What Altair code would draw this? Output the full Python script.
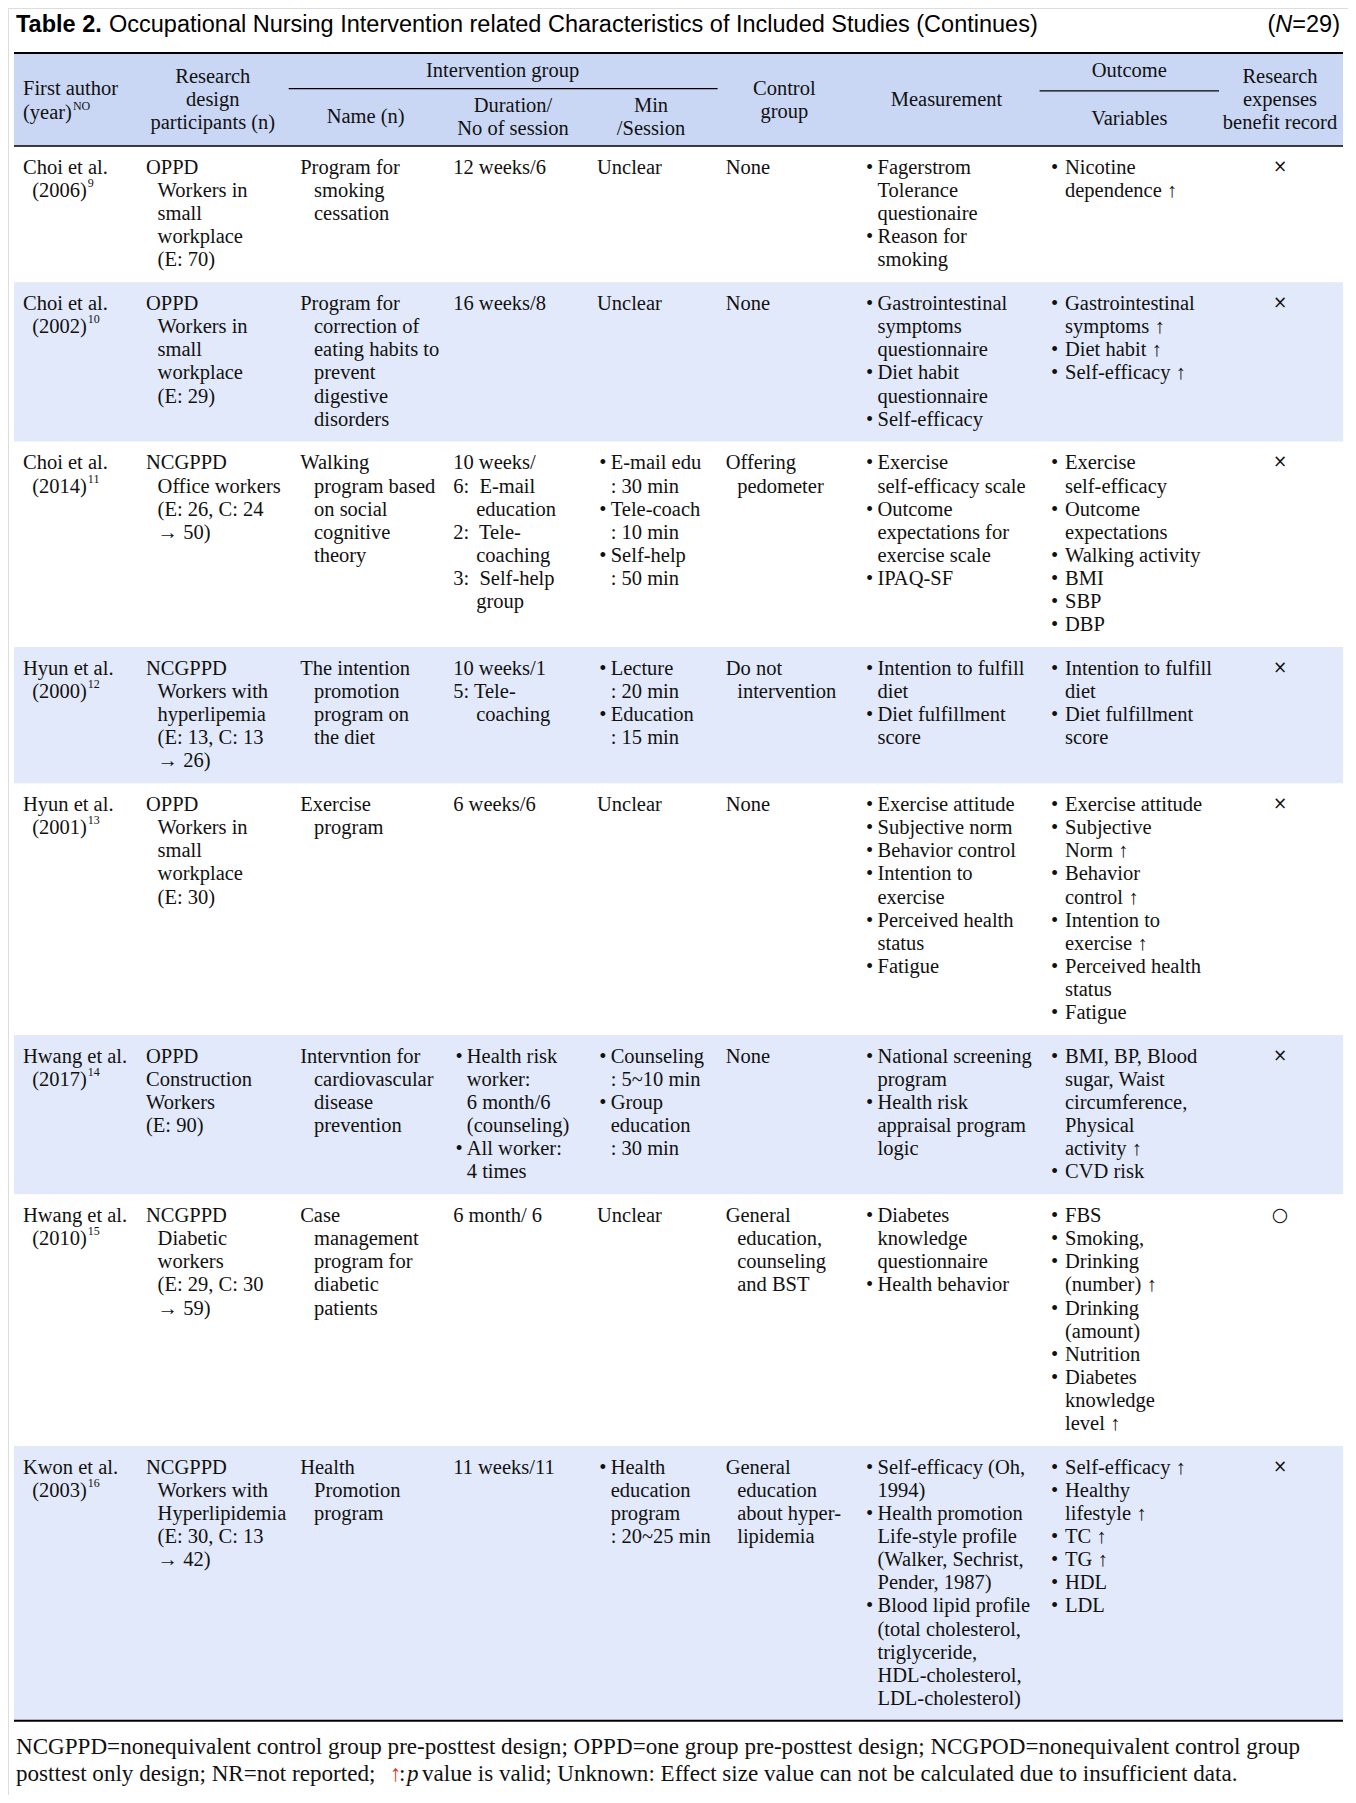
import altair as alt
import pandas as pd

# ---------------- DATA ----------------
title_bold = "Table 2."
title_text = "Occupational Nursing Intervention related Characteristics of Included Studies (Continues)"
n_note = ["(", "N", "=29)"]

head_author = ["First author", "(year)"]
head_author_sup = "NO"
head_design = ["Research", "design", "participants (n)"]
head_group = "Intervention group"
head_name = ["Name (n)"]
head_duration = ["Duration/", "No of session"]
head_min = ["Min", "/Session"]
head_control = ["Control", "group"]
head_measure = ["Measurement"]
head_outcome = "Outcome"
head_variables = ["Variables"]
head_benefit = ["Research", "expenses", "benefit record"]

authors = ["Choi et al.", "Choi et al.", "Choi et al.", "Hyun et al.", "Hyun et al.",
           "Hwang et al.", "Hwang et al.", "Kwon et al."]
years = ["(2006)", "(2002)", "(2014)", "(2000)", "(2001)", "(2017)", "(2010)", "(2003)"]
refs = ["9", "10", "11", "12", "13", "14", "15", "16"]

design = [
    ["OPPD", "Workers in", "small", "workplace", "(E: 70)"],
    ["OPPD", "Workers in", "small", "workplace", "(E: 29)"],
    ["NCGPPD", "Office workers", "(E: 26, C: 24", "→ 50)"],
    ["NCGPPD", "Workers with", "hyperlipemia", "(E: 13, C: 13", "→ 26)"],
    ["OPPD", "Workers in", "small", "workplace", "(E: 30)"],
    ["OPPD", "^Construction", "^Workers", "^(E: 90)"],
    ["NCGPPD", "Diabetic", "workers", "(E: 29, C: 30", "→ 59)"],
    ["NCGPPD", "Workers with", "Hyperlipidemia", "(E: 30, C: 13", "→ 42)"],
]
names = [
    ["Program for", "smoking", "cessation"],
    ["Program for", "correction of", "eating habits to", "prevent", "digestive", "disorders"],
    ["Walking", "program based", "on social", "cognitive", "theory"],
    ["The intention", "promotion", "program on", "the diet"],
    ["Exercise", "program"],
    ["Intervntion for", "cardiovascular", "disease", "prevention"],
    ["Case", "management", "program for", "diabetic", "patients"],
    ["Health", "Promotion", "program"],
]
duration = [
    ["12 weeks/6"],
    ["16 weeks/8"],
    ["10 weeks/", "^6:\u00a0 E-mail", "education", "^2:\u00a0 Tele-", "coaching", "^3:\u00a0 Self-help", "group"],
    ["10 weeks/1", "^5: Tele-", "coaching"],
    ["6 weeks/6"],
    ["• Health risk", "worker:", "6 month/6", "(counseling)", "• All worker:", "4 times"],
    ["6 month/ 6"],
    ["11 weeks/11"],
]
minutes = [
    ["Unclear"],
    ["Unclear"],
    ["• E-mail edu", ": 30 min", "• Tele-coach", ": 10 min", "• Self-help", ": 50 min"],
    ["• Lecture", ": 20 min", "• Education", ": 15 min"],
    ["Unclear"],
    ["• Counseling", ": 5~10 min", "•Group", "education", ": 30 min"],
    ["Unclear"],
    ["•Health", "education", "program", ": 20~25 min"],
]
control = [
    ["None"], ["None"], ["Offering", "pedometer"], ["Do not", "intervention"],
    ["None"], ["None"], ["General", "education,", "counseling", "and BST"],
    ["General", "education", "about hyper-", "lipidemia"],
]
measurement = [
    ["• Fagerstrom", "Tolerance", "questionaire", "• Reason for", "smoking"],
    ["• Gastrointestinal", "symptoms", "questionnaire", "• Diet habit", "questionnaire", "• Self-efficacy"],
    ["• Exercise", "self-efficacy scale", "• Outcome", "expectations for", "exercise scale", "• IPAQ-SF"],
    ["• Intention to fulfill", "diet", "• Diet fulfillment", "score"],
    ["• Exercise attitude", "• Subjective norm", "• Behavior control", "• Intention to", "exercise",
     "• Perceived health", "status", "• Fatigue"],
    ["• National screening", "program", "• Health risk", "appraisal program", "logic"],
    ["• Diabetes", "knowledge", "questionnaire", "• Health behavior"],
    ["• Self-efficacy (Oh,", "1994)", "• Health promotion", "Life-style profile", "(Walker, Sechrist,",
     "Pender, 1987)", "• Blood lipid profile", "(total cholesterol,", "triglyceride,",
     "HDL-cholesterol,", "LDL-cholesterol)"],
]
variables = [
    ["• Nicotine", "dependence ↑"],
    ["• Gastrointestinal", "symptoms ↑", "• Diet habit ↑", "• Self-efficacy ↑"],
    ["• Exercise", "self-efficacy", "• Outcome", "expectations", "• Walking activity", "• BMI", "• SBP", "• DBP"],
    ["• Intention to fulfill", "diet", "• Diet fulfillment", "score"],
    ["• Exercise attitude", "• Subjective", "Norm ↑", "• Behavior", "control ↑", "• Intention to",
     "exercise ↑", "• Perceived health", "status", "• Fatigue"],
    ["• BMI, BP, Blood", "sugar, Waist", "circumference,", "Physical", "activity ↑", "• CVD risk"],
    ["• FBS", "• Smoking,", "• Drinking", "(number) ↑", "• Drinking", "(amount)", "• Nutrition",
     "• Diabetes", "knowledge", "level ↑"],
    ["• Self-efficacy ↑", "• Healthy", "lifestyle ↑", "• TC ↑", "• TG ↑", "• HDL", "• LDL"],
]
benefit = ["×", "×", "×", "×", "×", "×", "○", "×"]

foot_line1 = ("NCGPPD=nonequivalent control group pre-posttest design; OPPD=one group pre-posttest "
              "design; NCGPOD=nonequivalent control group")
foot_line2 = ["posttest only design; NR=not reported;", "↑", ":", "p",
              "value is valid; Unknown: Effect size value can not be calculated due to insufficient data."]

# ---------------- LAYOUT / STYLE ----------------
W, H = 1340, 1787
OFF = 8
FS = 20.5
FS_FOOT = 23.1
TS = 23.5
SERIF = "Liberation Serif"
SANS = "Liberation Sans"
LH = 23.1
PAD = 20.7
FIRST = 21.9
HEAD_TOP = 52.9
HEAD_BOT = 146.0
TL, TR = 14, 1343
HEAD_BG = "#c9d7f5"
ROW_BG = "#e2e9fa"
INK = "#111111"
FOOT2_X = [16, 390, 399, 407, 422]

TIMES = {" ": 250, "\u00a0": 250, "(": 333, ")": 333, ",": 250, "-": 333, ".": 250, "/": 278,
         ":": 278, ";": 278, "=": 564, "~": 541, "↑": 500}
for ch in "0123456789":
    TIMES[ch] = 500
TIMES.update(dict(zip("ABCDEFGHIJKLMNOPQRSTUVWXYZ",
                      [722, 667, 667, 722, 611, 556, 722, 722, 333, 389, 722, 611, 889, 722, 722, 556,
                       722, 667, 556, 611, 722, 722, 944, 722, 722, 611])))
TIMES.update(dict(zip("abcdefghijklmnopqrstuvwxyz",
                      [444, 500, 444, 500, 444, 333, 500, 500, 278, 278, 500, 278, 778, 500, 500, 500,
                       500, 333, 389, 278, 500, 500, 722, 500, 500, 444])))


def tw(s, size):
    return sum(TIMES.get(c, 500) for c in s) * size / 1000.0


# column geometry: x0 first line, ind continuation, bx bullet, btx bullet text
cols = [
    dict(x0=146.0, ind=157.6, bx=148.0, btx=157.6),
    dict(x0=300.2, ind=314.0, bx=302.0, btx=314.0),
    dict(x0=453.2, ind=476.2, bx=455.5, btx=466.8),
    dict(x0=597.0, ind=610.7, bx=599.2, btx=610.7),
    dict(x0=725.7, ind=737.2, bx=727.0, btx=737.2),
    dict(x0=866.0, ind=877.5, bx=866.0, btx=877.5),
    dict(x0=1051.0, ind=1065.0, bx=1051.0, btx=1065.0),
]
col_data = [design, names, duration, minutes, control, measurement, variables]

texts = []   # dicts: x, y, text, style
rects = []
rules = []


def add(x, y, t, style="body"):
    texts.append(dict(x=x, y=y, text=t, style=style))


# title
add(16, 25.3, title_bold, "title_b")
add(109, 25.3, title_text, "title")
w_rest = (584 + 556 + 556 + 333) * TS / 1000
w_n = 722 * TS / 1000
add(1340, 25.3, n_note[2], "title_r")
add(1340 - w_rest, 25.3, n_note[1], "title_ri")
add(1340 - w_rest - w_n, 25.3, n_note[0], "title_r")

# header
rects.append(dict(x=TL, x2=TR, y=HEAD_TOP, y2=HEAD_BOT, fill=HEAD_BG))
add(23, 88.6, head_author[0])
add(23, 112.7, head_author[1])
add(23 + tw(head_author[1], FS) + 1, 105.5, head_author_sup, "sup")
for t, y in zip(head_design, [77, 100, 123]):
    add(212.8, y, t, "center")
add(502.6, 71.3, head_group, "center")
rules.append(dict(x=288.7, x2=717.6, y=88.6, w=1.2))
add(365.7, 117.3, head_name[0], "center")
for t, y in zip(head_duration, [105.8, 128.8]):
    add(513, y, t, "center")
for t, y in zip(head_min, [105.8, 128.8]):
    add(651, y, t, "center")
for t, y in zip(head_control, [88.6, 111.6]):
    add(784.3, y, t, "center")
add(946.5, 100, head_measure[0], "center")
add(1129.3, 71.3, head_outcome, "center")
rules.append(dict(x=1039.6, x2=1219, y=90.9, w=1.2))
add(1129.3, 118.5, head_variables[0], "center")
for t, y in zip(head_benefit, [77, 100, 123]):
    add(1280, y, t, "center")

rules.append(dict(x=TL, x2=TR, y=HEAD_TOP, w=2))
rules.append(dict(x=TL, x2=TR, y=HEAD_BOT, w=1.6))

# body rows
top = HEAD_BOT
for r in range(len(authors)):
    nlines = max([2] + [len(c[r]) for c in col_data])
    height = nlines * LH + PAD
    if r % 2 == 1:
        rects.append(dict(x=TL, x2=TR, y=top, y2=top + height, fill=ROW_BG))
    y0 = top + FIRST
    add(23, y0, authors[r])
    add(32.2, y0 + LH, years[r])
    add(32.2 + tw(years[r], FS) + 1, y0 + LH - 8, refs[r], "sup")
    for spec, cdat in zip(cols, col_data):
        lines = cdat[r]
        has_b = any(l.startswith("•") for l in lines)
        for i, l in enumerate(lines):
            y = y0 + i * LH
            if l.startswith("•"):
                add(spec["bx"], y, "•")
                add(spec["btx"], y, l[1:].strip())
            elif l.startswith("^"):
                add(spec["x0"], y, l[1:])
            elif i == 0:
                add(spec["x0"], y, l)
            else:
                add(spec["btx"] if has_b else spec["ind"], y, l)
    add(1280, y0 - 1, benefit[r], "mark_o" if benefit[r] == "○" else "mark")
    top += height

rules.append(dict(x=TL, x2=TR, y=top, w=2))

# footnote
fy1 = top + 26.5
fy2 = top + 53
add(16, fy1, foot_line1, "foot")
for k, (piece, px) in enumerate(zip(foot_line2, FOOT2_X)):
    st = {1: "foot_red", 3: "foot_i"}.get(k, "foot")
    add(px, fy2, piece, st)

# ---------------- CHART ----------------
xs = alt.Scale(domain=[OFF, OFF + W], range=[0, W], nice=False, zero=False)
ys = alt.Scale(domain=[OFF, OFF + H], range=[0, H], nice=False, zero=False)
X = alt.X("x:Q", scale=xs, axis=None)
Y = alt.Y("y:Q", scale=ys, axis=None)

df_t = pd.DataFrame(texts)
df_r = pd.DataFrame(rects)
df_l = pd.DataFrame(rules)

bg = alt.Chart(df_r).mark_rect().encode(
    x=X, x2="x2:Q", y=Y, y2="y2:Q", color=alt.Color("fill:N", scale=None))
ln = alt.Chart(df_l).mark_rule(color="black").encode(
    x=X, x2="x2:Q", y=Y, size=alt.Size("w:Q", scale=None))

styles = {
    "body": dict(font=SERIF, fontSize=FS, align="left", color=INK),
    "center": dict(font=SERIF, fontSize=FS, align="center", color=INK),
    "sup": dict(font=SERIF, fontSize=12, align="left", color=INK),
    "mark": dict(font="DejaVu Sans", fontSize=17, align="center", color=INK),
    "mark_o": dict(font="DejaVu Sans", fontSize=19, align="center", color=INK),
    "title_b": dict(font=SANS, fontSize=TS, align="left", fontWeight="bold", color="black"),
    "title": dict(font=SANS, fontSize=TS, align="left", color="black"),
    "title_r": dict(font=SANS, fontSize=TS, align="right", color="black"),
    "title_ri": dict(font=SANS, fontSize=TS, align="right", fontStyle="italic", color="black"),
    "foot": dict(font=SERIF, fontSize=FS_FOOT, align="left", color=INK),
    "foot_i": dict(font=SERIF, fontSize=FS_FOOT, align="left", fontStyle="italic", color=INK),
    "foot_red": dict(font=SERIF, fontSize=FS_FOOT, align="left", color="#d23a22"),
}
layers = [bg, ln]
for name, props in styles.items():
    sub = df_t[df_t["style"] == name]
    if len(sub) == 0:
        continue
    layers.append(alt.Chart(sub).mark_text(baseline="middle", **props).encode(
        x=X, y=Y, text="text:N"))

chart = alt.layer(*layers).properties(
    width=W, height=H, padding=0, autosize=alt.AutoSizeParams(type="none")
).configure_view(stroke=None).configure(background="white")

chart.save("out.html", embed_options={"renderer": "svg", "actions": False})
